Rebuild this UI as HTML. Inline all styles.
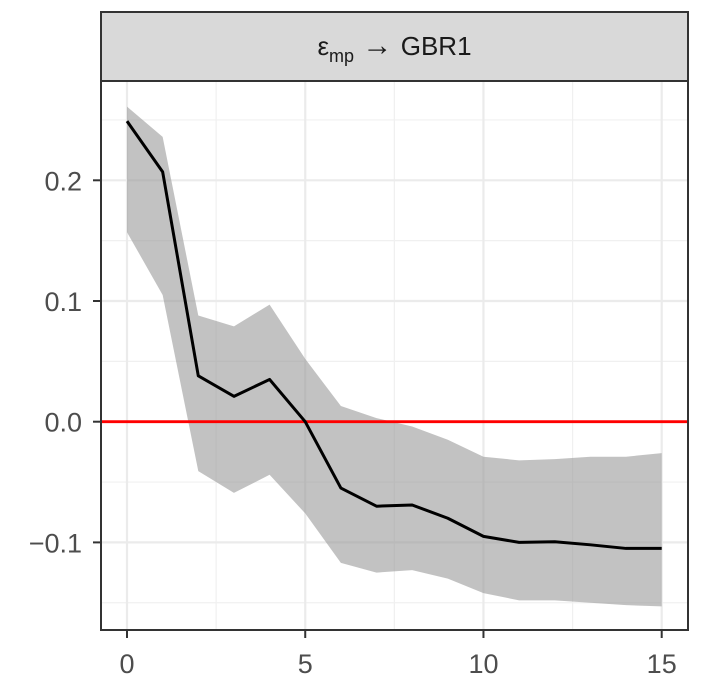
<!DOCTYPE html>
<html><head><meta charset="utf-8"><style>
body{margin:0;background:#fff;}
svg text{font-family:"Liberation Sans",sans-serif;fill:#4d4d4d;}
</style></head><body>
<svg id="c" width="708" height="691"></svg>
<script>
const horizons=[0,1,2,3,4,5,6,7,8,9,10,11,12,13,14,15];
const irf=[0.249,0.207,0.038,0.021,0.035,0.0,-0.055,-0.070,-0.069,-0.080,-0.095,-0.100,-0.0995,-0.102,-0.105,-0.105];
const upper=[0.261,0.236,0.088,0.079,0.097,0.052,0.013,0.003,-0.004,-0.015,-0.029,-0.032,-0.031,-0.029,-0.029,-0.026];
const lower=[0.157,0.105,-0.041,-0.059,-0.044,-0.076,-0.117,-0.125,-0.123,-0.130,-0.142,-0.148,-0.148,-0.150,-0.152,-0.153];
const xTicks=[0,5,10,15];
const yTicks=[-0.1,0.0,0.1,0.2];
const yTickLabels=["\u22120.1","0.0","0.1","0.2"];
const xMinor=[2.5,7.5,12.5];
const yMinor=[-0.15,-0.05,0.05,0.15,0.25];

const NS="http://www.w3.org/2000/svg";
const svg=document.getElementById('c');
const L=101,R=688,T=81,B=630;
const x=v=>127+v*(661.7-127)/15;
const y=v=>421.7-v*1207;
function mk(tag,attrs,parent){const e=document.createElementNS(NS,tag);for(const k in attrs)e.setAttribute(k,attrs[k]);(parent||svg).appendChild(e);return e;}

// strip
let s=mk('rect',{x:L,y:12,width:R-L,height:T-12,fill:'#d9d9d9',stroke:'#333','stroke-width':2});


let st=mk('text',{x:(L+R)/2,y:55,'text-anchor':'middle','font-size':26});


st.style.fill='#1a1a1a';
st.innerHTML='ε<tspan font-size="18" dy="7">mp</tspan><tspan dy="-7" font-size="30"> → </tspan><tspan>GBR1</tspan>';

// grid
xMinor.forEach(v=>{const g=mk('line',{x1:x(v),x2:x(v),y1:T,y2:B,stroke:'#f0f0f0','stroke-width':1.2});});
yMinor.forEach(v=>{const g=mk('line',{x1:L,x2:R,y1:y(v),y2:y(v),stroke:'#f0f0f0','stroke-width':1.2});});
xTicks.forEach(v=>{const g=mk('line',{x1:x(v),x2:x(v),y1:T,y2:B,stroke:'#ebebeb','stroke-width':2.2});});
yTicks.forEach(v=>{const g=mk('line',{x1:L,x2:R,y1:y(v),y2:y(v),stroke:'#ebebeb','stroke-width':2.2});});

// band
let pts=horizons.map((h,i)=>x(h)+','+y(upper[i])).concat(horizons.slice().reverse().map((h,j)=>x(h)+','+y(lower[horizons.length-1-j])));
let band=mk('polygon',{points:pts.join(' '),fill:'#999','fill-opacity':0.6});



// zero line
let z=mk('line',{x1:L,x2:R,y1:y(0),y2:y(0),stroke:'#ff0000','stroke-width':2.8});



// irf line
let ln=mk('polyline',{points:horizons.map((h,i)=>x(h)+','+y(irf[i])).join(' '),fill:'none',stroke:'#000','stroke-width':3,'stroke-linejoin':'round'});



// panel border
let pb=mk('rect',{x:L,y:T,width:R-L,height:B-T,fill:'none',stroke:'#333','stroke-width':2});



// ticks & labels
xTicks.forEach(v=>{
  const t=mk('line',{x1:x(v),x2:x(v),y1:B,y2:B+8,stroke:'#333','stroke-width':2});
  
  
  const lb=mk('text',{x:x(v),y:673,'text-anchor':'middle','font-size':27});
  
  
  lb.textContent=v;
});
yTicks.forEach((v,i)=>{
  const t=mk('line',{x1:L-8,x2:L,y1:y(v),y2:y(v),stroke:'#333','stroke-width':2});
  
  
  const lb=mk('text',{x:82,y:y(v)+10,'text-anchor':'end','font-size':27});
  
  
  lb.textContent=yTickLabels[i];
});
</script>
</body></html>
